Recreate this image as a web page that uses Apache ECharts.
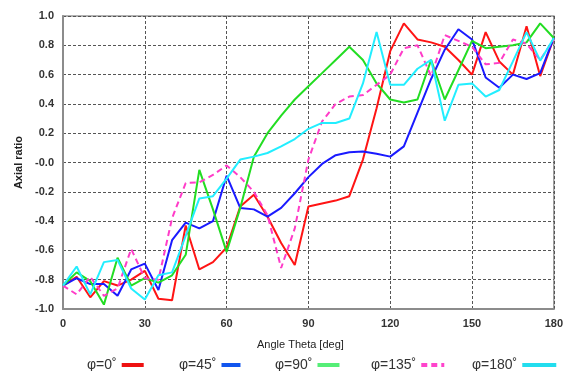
<!DOCTYPE html>
<html><head><meta charset="utf-8">
<script src="https://cdn.jsdelivr.net/npm/echarts@6/dist/echarts.min.js"></script>
<style>html,body{margin:0;padding:0;background:#fff}#c{width:566px;height:371px}</style>
</head><body><div id="c"></div>
<script>
const theta = [0,5,10,15,20,25,30,35,40,45,50,55,60,65,70,75,80,85,90,95,100,105,110,115,120,125,130,135,140,145,150,155,160,165,170,175,180];
const phi0 = [-0.84,-0.78,-0.92,-0.81,-0.84,-0.80,-0.74,-0.93,-0.94,-0.43,-0.73,-0.68,-0.58,-0.30,-0.22,-0.37,-0.55,-0.70,-0.30,-0.28,-0.26,-0.23,0.02,0.37,0.76,0.95,0.84,0.82,0.79,0.70,0.60,0.89,0.69,0.60,0.93,0.59,0.85];
const phi45 = [-0.84,-0.79,-0.83,-0.83,-0.91,-0.73,-0.69,-0.87,-0.53,-0.41,-0.45,-0.40,-0.09,-0.31,-0.32,-0.37,-0.31,-0.21,-0.10,-0.01,0.05,0.07,0.075,0.06,0.04,0.11,0.34,0.57,0.77,0.91,0.84,0.58,0.51,0.60,0.57,0.61,0.85];
const phi90 = [-0.84,-0.75,-0.81,-0.97,-0.65,-0.84,-0.79,-0.82,-0.77,-0.63,-0.05,-0.32,-0.61,-0.31,0.04,0.20,0.32,0.43,0.52,0.61,0.70,0.79,0.70,0.54,0.43,0.41,0.43,0.70,0.43,0.63,0.83,0.78,0.79,0.80,0.82,0.95,0.85];
const phi135 = [-0.84,-0.90,-0.78,-0.91,-0.86,-0.59,-0.79,-0.80,-0.38,-0.14,-0.135,-0.085,-0.02,-0.10,-0.20,-0.36,-0.72,-0.45,0.02,0.28,0.40,0.45,0.46,0.53,0.60,0.78,0.80,0.59,0.87,0.83,0.79,0.67,0.68,0.84,0.81,0.70,0.84];
const phi180 = [-0.84,-0.71,-0.90,-0.68,-0.665,-0.86,-0.935,-0.77,-0.75,-0.50,-0.245,-0.23,-0.11,0.02,0.04,0.065,0.11,0.16,0.23,0.27,0.27,0.30,0.54,0.89,0.53,0.53,0.64,0.70,0.285,0.53,0.54,0.45,0.495,0.69,0.89,0.695,0.85];
const seriesNames = ['φ=0˚','φ=45˚','φ=90˚','φ=135˚','φ=180˚'];
const seriesValues = [phi0, phi45, phi90, phi135, phi180];
const colors = ['#ff1414','#1a1aff','#22dd22','#ff3cc8','#22eeff'];
const legendColors = ['#ee1111','#1155ee','#55ee77','#ff44cc','#22ddee'];
const dashTypes = ['solid','solid','solid',[6,4],'solid'];
const legendLeft = [87,179,275,371,472];
const legendW = [22,19,22,23,34];

const chart = echarts.init(document.getElementById('c'), null, {renderer:'canvas'});
const font = 'Liberation Sans, Arial, sans-serif';
const series = seriesNames.map((n,i)=>({
  name:n, type:'line', symbol:'none', animation:false,
  data: theta.map((t,j)=>[t, seriesValues[i][j]]),
  lineStyle:{color:colors[i], width:2, type:dashTypes[i]},
  itemStyle:{color:legendColors[i]}
}));
const legends = seriesNames.map((n,i)=>({
  data:[n], left:legendLeft[i], top:358, align:'right', orient:'horizontal',
  itemWidth:legendW[i], itemHeight:14, itemGap:0, padding:0,
  itemStyle:{opacity:0, borderWidth:0, color:'transparent'},
  lineStyle:{width:4, color:legendColors[i]},
  textStyle:{fontSize:14, color:'#333', fontFamily:font}
}));
chart.setOption({
  backgroundColor:'#fff',
  animation:false,
  grid:{left:63, right:11, top:16, bottom:62, show:true, borderColor:'#999', borderWidth:1.5},
  legend: legends,
  xAxis:{type:'value', min:0, max:180, interval:30,
    name:'Angle Theta [deg]', nameLocation:'middle', nameGap:30,
    nameTextStyle:{fontSize:11, color:'#222', fontFamily:font, padding:[0,16,0,0]},
    axisLine:{onZero:false, lineStyle:{color:'#8c8c8c', width:2}},
    axisTick:{show:false},
    axisLabel:{fontSize:11, fontWeight:'bold', color:'#333', fontFamily:font, margin:9},
    splitLine:{lineStyle:{color:'#555', type:[3,2], width:1}}
  },
  yAxis:{type:'value', min:-1, max:1, interval:0.2,
    name:'Axial ratio', nameLocation:'middle', nameGap:36, nameRotate:90,
    nameTextStyle:{fontSize:11, fontWeight:'bold', color:'#222', fontFamily:font},
    axisLine:{show:true, onZero:false, lineStyle:{color:'#8c8c8c', width:2}},
    axisTick:{show:false},
    axisLabel:{fontSize:11, fontWeight:'bold', color:'#333', fontFamily:font, margin:9,
      formatter:v=>{const r=Math.round(v*10)/10; return r===0?'-0.0':r.toFixed(1);}},
    splitLine:{lineStyle:{color:'#555', type:[3,2], width:1}}
  },
  series: series
});
</script></body></html>
